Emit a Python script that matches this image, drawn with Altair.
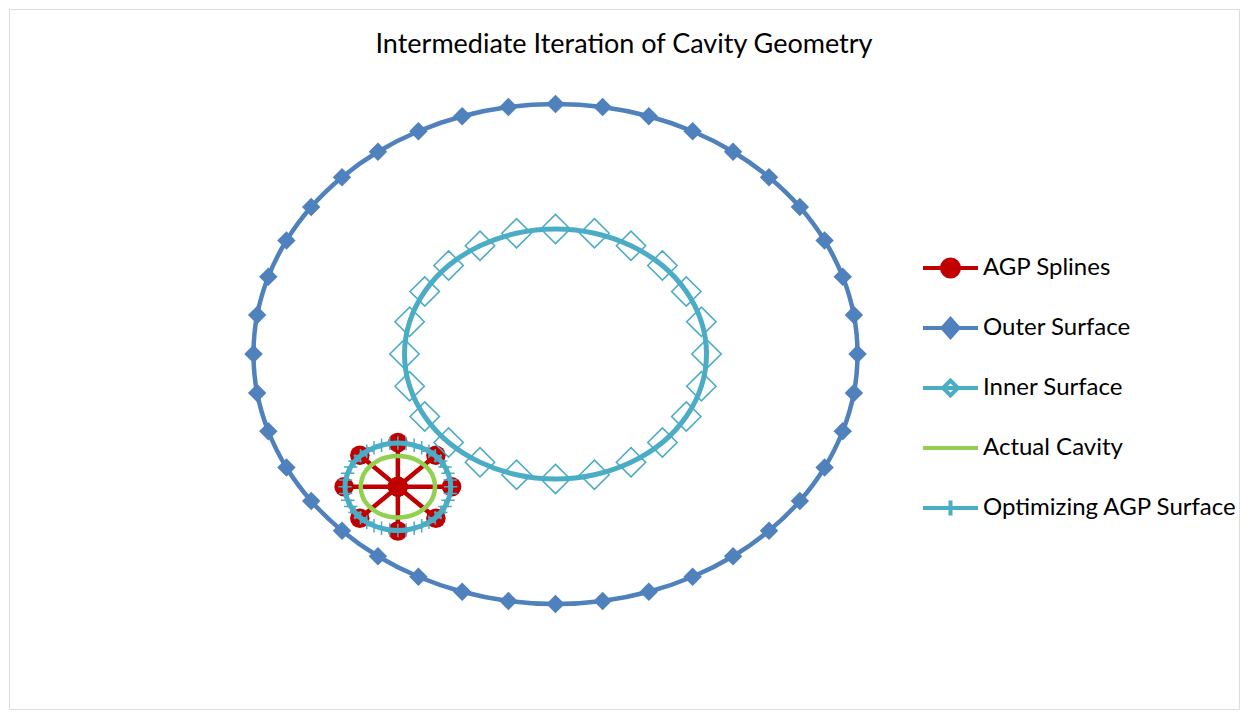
import altair as alt
import pandas as pd

# ---------------- data ----------------
SERIES = ["AGP Splines", "Outer Surface", "Inner Surface", "Actual Cavity", "Optimizing AGP Surface"]

OUTER_X = [0, 1.56, 3.09, 4.54, 5.88, 7.07, 8.09, 8.91, 9.51, 9.88,
           10, 9.88, 9.51, 8.91, 8.09, 7.07, 5.88, 4.54, 3.09, 1.56,
           0, -1.56, -3.09, -4.54, -5.88, -7.07, -8.09, -8.91, -9.51, -9.88,
           -10, -9.88, -9.51, -8.91, -8.09, -7.07, -5.88, -4.54, -3.09, -1.56]
OUTER_Y = [10, 9.88, 9.51, 8.91, 8.09, 7.07, 5.88, 4.54, 3.09, 1.56,
           0, -1.56, -3.09, -4.54, -5.88, -7.07, -8.09, -8.91, -9.51, -9.88,
           -10, -9.88, -9.51, -8.91, -8.09, -7.07, -5.88, -4.54, -3.09, -1.56,
           0, 1.56, 3.09, 4.54, 5.88, 7.07, 8.09, 8.91, 9.51, 9.88]

INNER_X = [0, 1.29, 2.5, 3.54, 4.33, 4.83, 5, 4.83, 4.33, 3.54, 2.5, 1.29,
           0, -1.29, -2.5, -3.54, -4.33, -4.83, -5, -4.83, -4.33, -3.54, -2.5, -1.29]
INNER_Y = [5, 4.83, 4.33, 3.54, 2.5, 1.29, 0, -1.29, -2.5, -3.54, -4.33, -4.83,
           -5, -4.83, -4.33, -3.54, -2.5, -1.29, 0, 1.29, 2.5, 3.54, 4.33, 4.83]

CAVITY_X = [-5.22, -4.90, -4.60, -4.35, -4.15, -4.03, -3.99, -4.03, -4.15, -4.35, -4.60, -4.90,
            -5.22, -5.54, -5.84, -6.09, -6.29, -6.41, -6.45, -6.41, -6.29, -6.09, -5.84, -5.54]
CAVITY_Y = [-4.08, -4.12, -4.24, -4.44, -4.69, -4.99, -5.31, -5.63, -5.93, -6.18, -6.38, -6.50,
            -6.54, -6.50, -6.38, -6.18, -5.93, -5.63, -5.31, -4.99, -4.69, -4.44, -4.24, -4.12]

OPT_X = [-5.22, -4.95, -4.68, -4.43, -4.19, -3.98, -3.80, -3.66, -3.56, -3.49,
         -3.47, -3.49, -3.56, -3.66, -3.80, -3.98, -4.19, -4.43, -4.68, -4.95,
         -5.22, -5.49, -5.76, -6.01, -6.25, -6.46, -6.64, -6.78, -6.88, -6.95,
         -6.97, -6.95, -6.88, -6.78, -6.64, -6.46, -6.25, -6.01, -5.76, -5.49]
OPT_Y = [-3.56, -3.58, -3.65, -3.75, -3.89, -4.07, -4.28, -4.52, -4.77, -5.04,
         -5.31, -5.58, -5.85, -6.10, -6.34, -6.55, -6.73, -6.87, -6.97, -7.04,
         -7.06, -7.04, -6.97, -6.87, -6.73, -6.55, -6.34, -6.10, -5.85, -5.58,
         -5.31, -5.04, -4.77, -4.52, -4.28, -4.07, -3.89, -3.75, -3.65, -3.58]

# spline hub and its 8 spline end points (hub repeated between spokes)
AGP_X = [-5.22, -5.22, -5.22, -3.96, -5.22, -3.44, -5.22, -3.96,
         -5.22, -5.22, -5.22, -6.48, -5.22, -7.00, -5.22, -6.48]
AGP_Y = [-5.31, -3.54, -5.31, -4.05, -5.31, -5.31, -5.31, -6.57,
         -5.31, -7.08, -5.31, -6.57, -5.31, -5.31, -5.31, -4.05]

# ---------------- colours / styling ----------------
RED = "#C00000"
BLUE = "#4F81BD"
AQUA = "#4BACC6"
GREEN = "#92D050"
FONT = "Lato"

def frame(xs, ys):
    return pd.DataFrame({"x": xs, "y": ys, "i": list(range(len(xs)))})

XSC = alt.Scale(domain=[-18.096, 22.632], nice=False, zero=False)
YSC = alt.Scale(domain=[-14.2, 13.8], nice=False, zero=False)

def enc(ch):
    return ch.encode(
        x=alt.X("x:Q", scale=XSC, axis=None),
        y=alt.Y("y:Q", scale=YSC, axis=None),
        order=alt.Order("i:Q"),
    )

agp = frame(AGP_X, AGP_Y)
outer = frame(OUTER_X, OUTER_Y)
inner = frame(INNER_X, INNER_Y)
cavity = frame(CAVITY_X, CAVITY_Y)
opt = frame(OPT_X, OPT_Y)

agp_line = enc(alt.Chart(agp).mark_line(color=RED, strokeWidth=4.5, interpolate="linear"))
agp_pts = enc(alt.Chart(agp).mark_point(shape="circle", filled=True, color=RED, size=380, opacity=1))

outer_line = enc(alt.Chart(outer).mark_line(color=BLUE, strokeWidth=4.5, interpolate="cardinal-closed"))
outer_pts = enc(alt.Chart(outer).mark_point(shape="diamond", filled=True, color=BLUE, size=340, opacity=1))

inner_line = enc(alt.Chart(inner).mark_line(color=AQUA, strokeWidth=5, interpolate="cardinal-closed"))
inner_pts = enc(alt.Chart(inner).mark_point(shape="diamond", filled=False, color=AQUA, size=860,
                                            strokeWidth=1.6, opacity=1))

cav_line = enc(alt.Chart(cavity).mark_line(color=GREEN, strokeWidth=4.5, interpolate="cardinal-closed"))

opt_line = enc(alt.Chart(opt).mark_line(color=AQUA, strokeWidth=5, interpolate="cardinal-closed"))
opt_pts = enc(alt.Chart(opt).mark_point(shape="M-1,0L1,0M0,-1L0,1", filled=False, color=AQUA,
                                        size=180, strokeWidth=1.5, opacity=1))

# ---------------- legend ----------------
LEG_SHAPES = [
    "M-1,0L1,0M-0.31,0A0.31,0.31 0 1,0 0.31,0A0.31,0.31 0 1,0 -0.31,0Z",
    "M-1,0L1,0M-0.29,0L0,-0.33L0.29,0L0,0.33Z",
    "M-1,0L1,0M-0.27,0L0,-0.27L0.27,0L0,0.27Z",
    "M-1,0L1,0",
    "M-1,0L1,0M0,-0.27L0,0.27",
]
LEG_FILL = [RED, BLUE, "white", GREEN, AQUA]
LEG_STROKE = [RED, BLUE, AQUA, GREEN, AQUA]

leg = alt.Legend(
    title=None, orient="none", legendX=912, legendY=229.5, direction="vertical",
    symbolSize=3025, symbolStrokeWidth=4, symbolOpacity=1,
    labelFont=FONT, labelFontSize=24, labelColor="black", labelOffset=3,
    rowPadding=13, padding=0, labelLimit=400, gridAlign="all",
)
leg_df = pd.DataFrame({"series": SERIES})
legend_layer = alt.Chart(leg_df).mark_point(filled=True, opacity=0).encode(
    shape=alt.Shape("series:N", scale=alt.Scale(domain=SERIES, range=LEG_SHAPES), legend=leg),
    fill=alt.Fill("series:N", scale=alt.Scale(domain=SERIES, range=LEG_FILL), legend=leg),
    stroke=alt.Stroke("series:N", scale=alt.Scale(domain=SERIES, range=LEG_STROKE), legend=leg),
)

chart = alt.layer(
    agp_line, agp_pts,
    outer_line, outer_pts,
    inner_line, inner_pts,
    cav_line,
    opt_line, opt_pts,
    legend_layer,
).properties(
    width=1230, height=700,
    autosize=alt.AutoSizeParams(type="none"),
    padding={"left": 1, "top": 1, "right": 1, "bottom": 1},
    title=alt.TitleParams(
        "Intermediate Iteration of Cavity Geometry",
        font=FONT, fontSize=27, fontWeight="normal", color="black",
        anchor="middle", offset=-71, baseline="alphabetic",
    ),
).configure_view(stroke="#868686", strokeWidth=2).configure(background="white")

chart.save("out.html", embed_options={"renderer": "svg", "actions": False})
